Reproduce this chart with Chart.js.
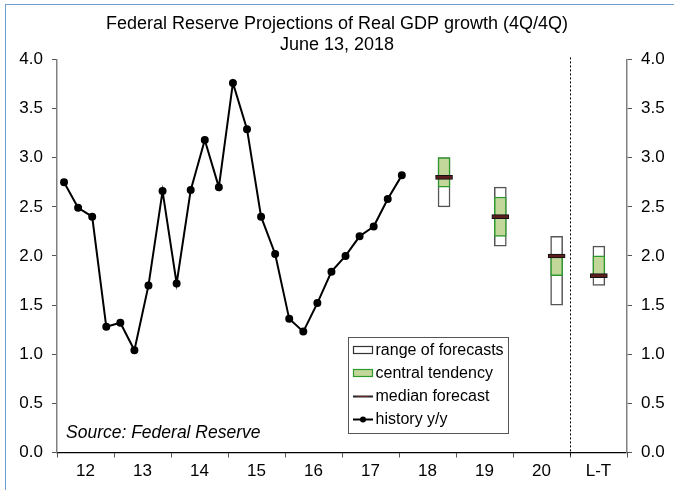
<!DOCTYPE html>
<html><head><meta charset="utf-8">
<script src="https://cdn.jsdelivr.net/npm/chart.js@4"></script>
<style>
html,body{margin:0;padding:0;background:#fff;}
#wrap{position:relative;width:674px;height:490px;overflow:hidden;}
#frame{position:absolute;left:5px;top:4px;width:720px;height:520px;border-left:1.5px solid #6f9bd6;border-top:1.5px solid #6f9bd6;pointer-events:none;}
canvas{position:absolute;left:0;top:0;}
</style></head><body>
<div id="wrap"><canvas id="c" width="674" height="490"></canvas><div id="frame"></div></div>
<script>
// ---- data ----
const yearLabels = ['12','13','14','15','16','17','18','19','20','L-T'];
const historyQuarters = ['2012Q1','2012Q2','2012Q3','2012Q4','2013Q1','2013Q2','2013Q3','2013Q4',
  '2014Q1','2014Q2','2014Q3','2014Q4','2015Q1','2015Q2','2015Q3','2015Q4','2016Q1','2016Q2',
  '2016Q3','2016Q4','2017Q1','2017Q2','2017Q3','2017Q4','2018Q1'];
const historyValues = [2.75, 2.49, 2.40, 1.28, 1.32, 1.04, 1.70, 2.66, 1.72, 2.67, 3.18, 2.70,
  3.76, 3.29, 2.40, 2.02, 1.36, 1.23, 1.52, 1.84, 2.00, 2.20, 2.30, 2.58, 2.82];
const forecastPeriods = ['2018Q4','2019Q4','2020Q4','Longer run'];
const forecastQuarterIndex = [27, 31, 35, 38]; // quarters counted from 2012Q1
const rangeLow  = [2.5, 2.1, 1.5, 1.7];
const rangeHigh = [3.0, 2.7, 2.2, 2.1];
const ctLow     = [2.7, 2.2, 1.8, 1.8];
const ctHigh    = [3.0, 2.6, 2.0, 2.0];
const medians   = [2.8, 2.4, 2.0, 1.8];
const legendLabels = ['range of forecasts','central tendency','median forecast','history y/y'];

const FONT = "'Liberation Sans', Arial, sans-serif";
const medHalf = 0.02;

const historyData = historyQuarters.map((q, i) => ({x: i, y: historyValues[i]}));
const rangeData = forecastQuarterIndex.map((q, i) => ({x: q, y: [rangeLow[i], rangeHigh[i]]}));
const ctData = forecastQuarterIndex.map((q, i) => ({x: q, y: [ctLow[i], ctHigh[i]]}));
const medData = forecastQuarterIndex.map((q, i) => ({x: q, y: [medians[i] - medHalf, medians[i] + medHalf]}));

const extras = {
  id: 'extras',
  afterDatasetsDraw(chart) {
    const ctx = chart.ctx, a = chart.chartArea;
    const xs = chart.scales.x;
    // dashed separator before long-term
    const xd = Math.round((xs.getPixelForValue(8) + xs.getPixelForValue(9)) / 2) + 0.5;
    ctx.save();
    ctx.strokeStyle = '#000';
    ctx.lineWidth = 1;
    ctx.setLineDash([2, 2]);
    ctx.beginPath();
    ctx.moveTo(xd, a.top - 2);
    ctx.lineTo(xd, a.bottom + 4);
    ctx.stroke();
    ctx.setLineDash([]);

    // source note
    ctx.fillStyle = '#000';
    ctx.font = "italic 17.5px " + FONT;
    ctx.textBaseline = 'middle';
    ctx.textAlign = 'left';
    ctx.fillText('Source: Federal Reserve', a.left + 9, 433);

    // legend
    const lx = 348.5, ly = 337.5, lw = 160, lh = 96;
    ctx.fillStyle = '#fff';
    ctx.fillRect(lx, ly, lw, lh);
    ctx.strokeStyle = '#555';
    ctx.lineWidth = 1;
    ctx.strokeRect(lx, ly, lw, lh);
    const rows = [350.5, 373.5, 396.5, 419.5];
    ctx.font = "16px " + FONT;
    ctx.fillStyle = '#000';
    legendLabels.forEach((t, i) => ctx.fillText(t, 375.5, rows[i]));
    // symbols
    ctx.lineWidth = 1.2;
    ctx.fillStyle = '#fff'; ctx.strokeStyle = '#333';
    ctx.fillRect(353.5, rows[0] - 4, 19, 7); ctx.strokeRect(353.5, rows[0] - 4, 19, 7);
    ctx.fillStyle = '#c4d79b'; ctx.strokeStyle = '#2e9a2e';
    ctx.fillRect(353.5, rows[1] - 4, 19, 7); ctx.strokeRect(353.5, rows[1] - 4, 19, 7);
    ctx.strokeStyle = '#222'; ctx.lineWidth = 2;
    ctx.beginPath(); ctx.moveTo(353, rows[2]); ctx.lineTo(373, rows[2]); ctx.stroke();
    ctx.strokeStyle = '#632523'; ctx.lineWidth = 1;
    ctx.beginPath(); ctx.moveTo(357, rows[2]); ctx.lineTo(369, rows[2]); ctx.stroke();
    ctx.strokeStyle = '#000'; ctx.lineWidth = 2;
    ctx.beginPath(); ctx.moveTo(353, rows[3]); ctx.lineTo(373, rows[3]); ctx.stroke();
    ctx.fillStyle = '#000';
    ctx.beginPath(); ctx.arc(363, rows[3], 3, 0, Math.PI * 2); ctx.fill();
    ctx.restore();
  }
};

const yAxisCommon = {
  min: 0, max: 4,
  ticks: { stepSize: 0.5, padding: 9, color: '#000', font: {family: FONT, size: 17},
           callback: v => Number(v).toFixed(1) },
  grid: { drawOnChartArea: false, drawTicks: true, tickLength: 5, color: '#555' },
  border: { color: '#808080', width: 1.5 }
};

new Chart(document.getElementById('c'), {
  type: 'bar',
  data: {
    labels: yearLabels,
    datasets: [
      { type: 'line', label: 'history y/y', data: historyData, xAxisID: 'xq', yAxisID: 'y',
        borderColor: '#000', borderWidth: 2, pointRadius: 3, pointBackgroundColor: '#000',
        pointBorderColor: '#000', tension: 0, order: 1 },
      { label: 'median forecast', data: medData, xAxisID: 'xq', yAxisID: 'y',
        backgroundColor: '#5a1f1d', borderColor: '#111', borderWidth: 1, borderSkipped: false,
        barThickness: 17, grouped: false, order: 2 },
      { label: 'central tendency', data: ctData, xAxisID: 'xq', yAxisID: 'y',
        backgroundColor: '#c4d79b', borderColor: '#2e9a2e', borderWidth: 1.5, borderSkipped: false,
        barThickness: 12, grouped: false, order: 3 },
      { label: 'range of forecasts', data: rangeData, xAxisID: 'xq', yAxisID: 'y',
        backgroundColor: '#fff', borderColor: '#555', borderWidth: 1.5, borderSkipped: false,
        barThickness: 12, grouped: false, order: 4 }
    ]
  },
  options: {
    responsive: false,
    animation: false,
    layout: { padding: { top: 3.5, left: 0, right: 0, bottom: 0 } },
    plugins: {
      legend: { display: false },
      tooltip: { enabled: false },
      title: {
        display: true,
        text: ['Federal Reserve Projections of Real GDP growth (4Q/4Q)', 'June 13, 2018'],
        color: '#000',
        font: { family: FONT, size: 18, weight: 'normal', lineHeight: 1.15 },
        padding: { top: 10.5, bottom: 4 }
      }
    },
    scales: {
      x: {
        type: 'category', position: 'bottom', offset: true,
        grid: { offset: true, drawOnChartArea: false, drawTicks: true, tickLength: 5, color: '#555' },
        border: { color: '#000', width: 1.2 },
        ticks: { color: '#000', padding: 4, font: {family: FONT, size: 17}, maxRotation: 0, autoSkip: false },
        afterFit: s => { s.height = 37.5; }
      },
      xq: { type: 'linear', display: false, min: -0.5, max: 40, offset: false },
      y: Object.assign({ position: 'left', afterFit: s => { s.width = 57; } }, yAxisCommon),
      y2: Object.assign({ position: 'right', afterFit: s => { s.width = 47; } }, yAxisCommon)
    }
  },
  plugins: [extras]
});
</script>
</body></html>
